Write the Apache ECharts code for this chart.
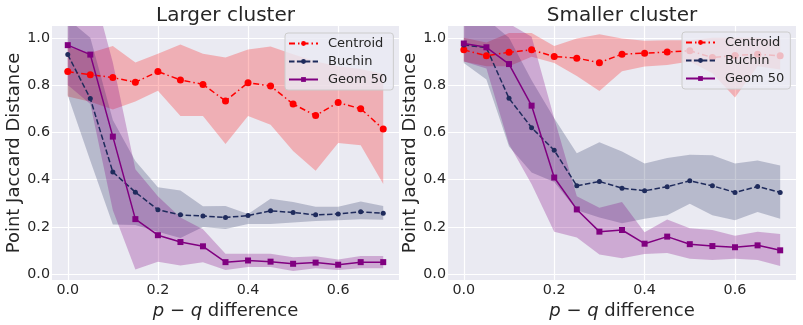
<!DOCTYPE html>
<html>
<head>
<meta charset="utf-8">
<script src="https://cdn.jsdelivr.net/npm/echarts@6/dist/echarts.min.js"></script>
<style>
html,body{margin:0;padding:0;background:#fff;}
#chart{width:803px;height:325px;}
</style>
</head>
<body>
<div id="chart"></div>
<script>
// ---- data ----
var xVals = [0, 0.05, 0.1, 0.15, 0.2, 0.25, 0.3, 0.35, 0.4, 0.45, 0.5, 0.55, 0.6, 0.65, 0.7];
var xTicks = [0, 0.2, 0.4, 0.6];
var yTicks = [0, 0.2, 0.4, 0.6, 0.8, 1.0];
var legendNames = ['Centroid', 'Buchin', 'Geom 50'];
var panelTitles = ['Larger cluster', 'Smaller cluster'];

// Larger cluster
var centroidL    = [0.857,0.844,0.832,0.812,0.857,0.822,0.803,0.733,0.810,0.796,0.720,0.671,0.726,0.700,0.614];
var centroidL_lo = [0.752,0.730,0.697,0.731,0.776,0.669,0.669,0.551,0.669,0.632,0.521,0.438,0.555,0.546,0.382];
var centroidL_hi = [0.960,0.937,0.965,0.896,0.933,0.972,0.933,0.917,0.951,0.963,0.930,0.900,0.880,0.868,0.847];

var buchinL    = [0.929,0.743,0.432,0.347,0.273,0.251,0.246,0.240,0.248,0.268,0.261,0.251,0.255,0.264,0.258];
var buchinL_lo = [0.757,0.480,0.210,0.208,0.180,0.153,0.200,0.191,0.212,0.212,0.219,0.225,0.228,0.232,0.230];
var buchinL_hi = [1.080,1.000,0.652,0.479,0.368,0.354,0.287,0.289,0.255,0.319,0.305,0.285,0.285,0.308,0.289];

var geomL    = [0.969,0.929,0.582,0.233,0.165,0.136,0.118,0.051,0.058,0.053,0.044,0.049,0.040,0.051,0.051];
var geomL_lo = [0.800,0.720,0.270,0.020,0.053,0.037,0.050,0.018,0.030,0.030,0.014,0.025,0.018,0.025,0.025];
var geomL_hi = [1.150,1.250,0.896,0.444,0.330,0.240,0.190,0.086,0.086,0.086,0.072,0.076,0.062,0.077,0.077];

// Smaller cluster
var centroidR    = [0.949,0.924,0.939,0.949,0.921,0.914,0.895,0.931,0.935,0.940,0.945,0.917,0.925,0.931,0.924];
var centroidR_lo = [0.900,0.880,0.880,0.920,0.893,0.838,0.775,0.859,0.879,0.885,0.900,0.850,0.748,0.880,0.866];
var centroidR_hi = [1.000,0.980,1.020,1.020,0.965,0.997,1.015,0.997,0.988,0.990,0.990,1.000,1.000,1.000,0.990];

var buchinR    = [0.970,0.958,0.744,0.620,0.524,0.374,0.392,0.364,0.353,0.370,0.395,0.374,0.346,0.371,0.346];
var buchinR_lo = [0.893,0.824,0.540,0.430,0.390,0.270,0.240,0.215,0.235,0.249,0.298,0.249,0.228,0.263,0.235];
var buchinR_hi = [1.100,1.080,1.000,0.820,0.660,0.512,0.558,0.519,0.468,0.492,0.505,0.503,0.468,0.481,0.460];

var geomR    = [0.976,0.960,0.889,0.713,0.409,0.274,0.180,0.187,0.129,0.159,0.127,0.119,0.114,0.122,0.101];
var geomR_lo = [0.900,0.870,0.550,0.380,0.180,0.155,0.083,0.067,0.085,0.090,0.065,0.060,0.065,0.060,0.035];
var geomR_hi = [1.150,1.200,1.060,1.004,0.660,0.330,0.281,0.305,0.177,0.231,0.194,0.187,0.163,0.180,0.170];

// ---- styling ----
var TXT = '#262626';
var FONT = 'DejaVu Sans';
var RED = '#ff0000', NAVY = '#1f2b5c', PURPLE = '#800080';
var RED_BAND = 'rgba(255,0,0,0.25)', NAVY_BAND = 'rgba(31,43,92,0.25)', PURPLE_BAND = 'rgba(128,0,128,0.27)';

var grids = [
  {left: 52, top: 26, width: 347, height: 258},
  {left: 448, top: 26, width: 348, height: 258}
];

function pairs(arr) { return xVals.map(function (x, i) { return [x, arr[i]]; }); }

function lineSeries(name, vals, color, type, symbol, size, gi) {
  return {
    type: 'line', name: name, xAxisIndex: gi, yAxisIndex: gi,
    data: pairs(vals), symbol: symbol, symbolSize: size, showSymbol: true,
    itemStyle: {color: color},
    lineStyle: {color: color, width: 1.5, type: type},
    z: 3
  };
}
function bandSeries(id, lo, hi, color, gi) {
  return {
    type: 'custom', name: id, xAxisIndex: gi, yAxisIndex: gi, silent: true, z: 3,
    data: xVals.map(function (x, i) { return [x, lo[i], hi[i]]; }),
    encode: {x: 0, y: [1, 2]},
    renderItem: function (params, api) {
      if (params.dataIndex !== 0) return null;
      var pts = [], i;
      for (i = 0; i < xVals.length; i++) pts.push(api.coord([xVals[i], hi[i]]));
      for (i = xVals.length - 1; i >= 0; i--) pts.push(api.coord([xVals[i], lo[i]]));
      var cs = params.coordSys;
      return {
        type: 'polygon', shape: {points: pts}, style: {fill: color},
        clipPath: {type: 'rect', shape: {x: cs.x, y: cs.y, width: cs.width, height: cs.height}}
      };
    }
  };
}

var panels = [
  {c: centroidL, clo: centroidL_lo, chi: centroidL_hi, b: buchinL, blo: buchinL_lo, bhi: buchinL_hi, g: geomL, glo: geomL_lo, ghi: geomL_hi},
  {c: centroidR, clo: centroidR_lo, chi: centroidR_hi, b: buchinR, blo: buchinR_lo, bhi: buchinR_hi, g: geomR, glo: geomR_lo, ghi: geomR_hi}
];

var series = [];
panels.forEach(function (p, gi) {
  series.push(lineSeries(legendNames[0], p.c, RED, [6, 3, 1.5, 3], 'circle', 7, gi));
  series.push(bandSeries('c' + gi, p.clo, p.chi, RED_BAND, gi));
  series.push(lineSeries(legendNames[1], p.b, NAVY, [5.5, 2.4], 'circle', 5, gi));
  series.push(bandSeries('b' + gi, p.blo, p.bhi, NAVY_BAND, gi));
  series.push(lineSeries(legendNames[2], p.g, PURPLE, 'solid', 'rect', 6, gi));
  series.push(bandSeries('g' + gi, p.glo, p.ghi, PURPLE_BAND, gi));
});

function xAxisCfg(gi) {
  return {
    gridIndex: gi, type: 'value', min: -0.035, max: 0.735,
    name: '{i|p} − {i|q} difference', nameLocation: 'middle', nameGap: 15,
    nameTextStyle: {fontFamily: FONT, fontSize: 18, color: TXT,
      rich: {i: {fontFamily: FONT, fontStyle: 'italic', fontSize: 18, color: TXT}}},
    axisLine: {show: false},
    axisTick: {show: false, customValues: xTicks},
    axisLabel: {customValues: xTicks, fontFamily: FONT, fontSize: 14.3, color: TXT, margin: 3,
      formatter: function (v) { return v.toFixed(1); }},
    splitLine: {show: true, lineStyle: {color: '#ffffff', width: 1.2}}
  };
}
function yAxisCfg(gi) {
  return {
    gridIndex: gi, type: 'value', min: -0.025, max: 1.05,
    name: 'Point Jaccard Distance', nameLocation: 'middle', nameGap: 15,
    nameTextStyle: {fontFamily: FONT, fontSize: 18, color: TXT},
    axisLine: {show: false},
    axisTick: {show: false, customValues: yTicks},
    axisLabel: {customValues: yTicks, fontFamily: FONT, fontSize: 14.3, color: TXT, margin: 2,
      formatter: function (v) { return v.toFixed(1); }},
    splitLine: {show: true, lineStyle: {color: '#ffffff', width: 1.2}}
  };
}

function legendCfg(left, top) {
  return {
    data: legendNames, orient: 'vertical', left: left, top: top,
    itemWidth: 29, itemHeight: 6, itemGap: 5,
    padding: [4, 6, 4, 3],
    backgroundColor: 'rgba(234,234,242,0.8)', borderColor: '#cccccc', borderWidth: 1, borderRadius: 3,
    textStyle: {fontFamily: FONT, fontSize: 13, color: TXT, padding: [0, 0, 0, 5]},
    selectedMode: false, z: 10
  };
}

var option = {
  animation: false,
  textStyle: {fontFamily: FONT},
  grid: grids.map(function (g) {
    return {left: g.left, top: g.top, width: g.width, height: g.height, show: true,
      backgroundColor: '#EAEAF2', borderWidth: 0, containLabel: false};
  }),
  xAxis: [xAxisCfg(0), xAxisCfg(1)],
  yAxis: [yAxisCfg(0), yAxisCfg(1)],
  legend: [legendCfg(285, 33), legendCfg(682, 32)],
  graphic: grids.map(function (g, i) {
    return {type: 'text', x: g.left + g.width / 2, y: 6,
      style: {text: panelTitles[i], fontFamily: FONT, fontSize: 20, fill: TXT, textAlign: 'center', textVerticalAlign: 'top'}};
  }),
  series: series
};

var chart = echarts.init(document.getElementById('chart'), null, {renderer: 'canvas'});
chart.setOption(option);
</script>
</body>
</html>
